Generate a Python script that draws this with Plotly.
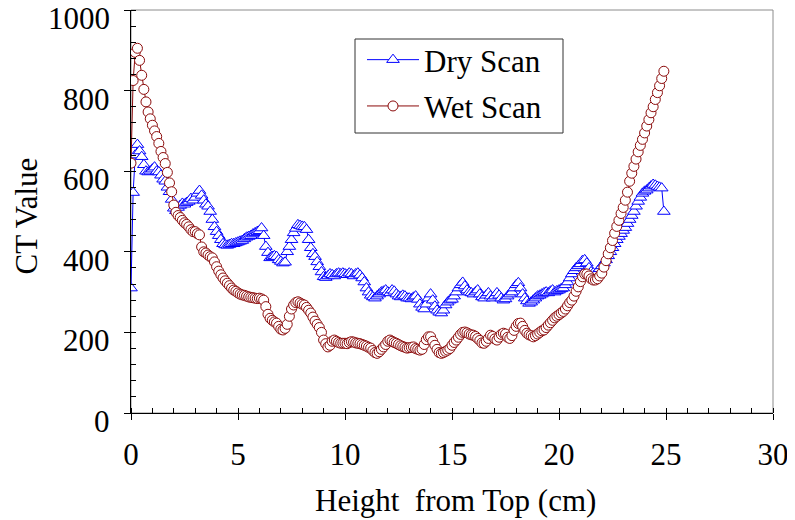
import plotly.graph_objects as go

# Sampling positions (cm from top), 0.1 cm steps
height_cm = [round(0.1 * i, 1) for i in range(250)]

dry_scan = [
    310, 547, 640, 666, 650, 636, 616, 600, 598, 600,
    605, 610, 600, 598, 590, 580, 575, 560, 549, 530,
    508, 502, 510, 515, 520, 518, 522, 525, 532, 528,
    535, 545, 552, 540, 528, 518, 513, 500, 480, 462,
    450, 440, 430, 420, 417, 416, 418, 420, 420, 422,
    424, 426, 428, 432, 436, 438, 440, 444, 447, 450,
    452, 459, 440, 413, 398, 385, 388, 390, 388, 380,
    376, 372, 374, 400, 413, 430, 447, 458, 467, 465,
    463, 462, 455, 430, 410, 395, 388, 375, 363, 350,
    338, 336, 340, 345, 343, 340, 345, 347, 345, 347,
    345, 343, 347, 345, 340, 345, 347, 342, 335, 325,
    310, 300, 292, 288, 285, 290, 295, 300, 302, 305,
    300, 298, 305, 302, 295, 290, 288, 292, 290, 285,
    285, 283, 287, 290, 282, 270, 262, 258, 270, 285,
    295, 280, 265, 255, 250, 248, 255, 268, 275, 280,
    282, 290, 300, 310, 318, 324, 315, 305, 300, 298,
    295, 300, 305, 295, 288, 285, 292, 298, 290, 285,
    290, 298, 292, 285, 280, 283, 290, 295, 300, 310,
    318, 323, 310, 295, 285, 278, 272, 275, 280, 285,
    290, 292, 295, 298, 300, 298, 302, 305, 300, 303,
    305, 308, 310, 318, 325, 335, 345, 353, 360, 365,
    370, 378, 380, 372, 360, 350, 347, 345, 350, 358,
    365, 372, 380, 390, 400, 410, 420, 430, 438, 445,
    453, 460, 470, 480, 490, 500, 513, 525, 535, 545,
    550, 553, 558, 563, 567, 565, 562, 560, 558, 500,
]

wet_scan = [
    620, 825, 895, 905, 875, 838, 803, 772, 747, 730,
    714, 700, 686, 669, 649, 634, 619, 597, 571, 549,
    516, 498, 490, 485, 478, 472, 468, 462, 455, 450,
    450, 445, 442, 412, 400, 397, 392, 388, 385, 375,
    363, 352, 343, 335, 328, 322, 316, 310, 305, 302,
    298, 295, 293, 292, 290, 288, 287, 286, 285, 284,
    285, 283, 280, 264, 245, 235, 230, 226, 223, 215,
    208, 206, 210, 220, 240, 258, 268, 274, 276, 273,
    270, 268, 262, 255, 248, 238, 228, 220, 212, 200,
    181, 172, 164, 168, 178, 181, 178, 175, 173, 173,
    173, 172, 175, 177, 176, 174, 173, 172, 170, 168,
    166, 163, 161, 155, 150, 148, 152, 158, 164, 170,
    178, 181, 178, 175, 173, 170, 167, 165, 163, 161,
    162, 163, 164, 160, 158, 156, 158, 170, 182, 189,
    189, 178, 168, 158, 150, 148, 150, 153, 156, 160,
    168, 175, 181, 188, 195, 200, 201, 199, 196, 194,
    193, 190, 185, 180, 174, 173, 178, 185, 193, 190,
    184, 181, 188, 195, 198, 196, 188, 185, 192, 205,
    215, 222, 223, 215, 205, 198, 194, 192, 189, 192,
    196, 200, 204, 206, 212, 218, 224, 230, 236, 240,
    244, 248, 252, 258, 266, 274, 280, 290, 302, 313,
    326, 338, 345, 345, 340, 333, 330, 330, 333, 340,
    347, 362, 378, 395, 410, 428, 446, 463, 478, 495,
    510, 528, 548, 575, 595, 612, 630, 648, 664, 679,
    695, 712, 728, 745, 760, 778, 795, 812, 830, 848,
]

x_ticks = [0, 5, 10, 15, 20, 25, 30]
y_ticks = [0, 200, 400, 600, 800, 1000]
x_title = "Height\u00a0 from Top (cm)"
y_title = "CT Value"
series_names = ["Dry Scan", "Wet Scan"]

FONT = "Liberation Serif, Times New Roman, serif"
FS = 31
BLUE = "#0000FF"
RED = "#8B0A0A"

# plot area in window pixels (page body adds an 8px offset)
PL, PR, PT, PB = 131, 773, 10, 413
PW, PH = PR - PL, PB - PT


def px_x(p):
    return (p - PL) / PW


def px_y(p):
    return (PB - p) / PH


fig = go.Figure()
fig.add_trace(go.Scatter(
    x=height_cm, y=dry_scan, name=series_names[0], mode="lines+markers",
    legendgroup="dry",
    line=dict(color=BLUE, width=1),
    marker=dict(symbol="triangle-up", size=11, color="white",
                line=dict(color=BLUE, width=1)),
))
fig.add_trace(go.Scatter(
    x=height_cm, y=wet_scan, name=series_names[1], mode="lines+markers",
    legendgroup="wet",
    line=dict(color=RED, width=1),
    marker=dict(symbol="circle", size=10, color="white",
                line=dict(color=RED, width=1)),
))

# grey frame on top/right
fig.add_shape(type="rect", xref="paper", yref="paper", x0=0, y0=0, x1=1, y1=1,
              line=dict(color="#8c8c8c", width=1), layer="below")
# legend box
fig.add_shape(type="rect", xref="paper", yref="paper",
              x0=px_x(355), x1=px_x(563), y0=px_y(133), y1=px_y(39),
              line=dict(color="#333333", width=1), fillcolor="white", layer="above")

axis_common = dict(
    showgrid=False, zeroline=False, showline=True, linecolor="black", linewidth=1,
    ticks="outside", ticklen=6, tickwidth=1, tickcolor="black",
    tickfont=dict(family=FONT, size=FS, color="black"),
    automargin=False, ticklabeloverflow="allow",
)

fig.update_xaxes(
    range=[0, 30], tickvals=x_ticks, ticktext=[str(v) for v in x_ticks],
    minor=dict(dtick=1, ticks="inside", ticklen=5, tickcolor="black", tickwidth=1),
    ticklabelstandoff=8,
    **axis_common,
)
fig.update_yaxes(
    range=[0, 1000], tickvals=y_ticks, showticklabels=False,
    minor=dict(dtick=40, ticks="inside", ticklen=5, tickcolor="black", tickwidth=1),
    **axis_common,
)

annotations = []
for v in y_ticks:
    annotations.append(dict(
        x=0, xref="paper", y=v, yref="y", text=str(v), showarrow=False,
        xanchor="right", yanchor="middle", xshift=-19, yshift=-8, height=30,
        font=dict(family=FONT, size=FS, color="black"),
    ))
annotations.append(dict(
    x=px_x(26), xref="paper", y=0.5, yref="paper", text=y_title, showarrow=False,
    textangle=-90, xanchor="center", yanchor="middle", yshift=-5,
    font=dict(family=FONT, size=FS, color="black"),
))
annotations.append(dict(
    x=0.5, xref="paper", y=0, yref="paper", text=x_title, showarrow=False,
    xanchor="center", yanchor="top", xshift=3, yshift=-68,
    font=dict(family=FONT, size=FS, color="black"),
))

fig.update_layout(
    width=787, height=512,
    margin=dict(l=PL - 8, r=795 - PR, t=PT - 8, b=520 - PB),
    plot_bgcolor="white", paper_bgcolor="white",
    font=dict(family=FONT, color="black"),
    showlegend=True,
    annotations=annotations,
    legend=dict(
        x=px_x(362), y=px_y(33), xanchor="left", yanchor="top",
        bgcolor="rgba(0,0,0,0)", borderwidth=0,
        font=dict(family=FONT, size=FS, color="black"),
        itemwidth=52, tracegroupgap=3, traceorder="grouped",
    ),
)

fig.write_html("out.html")
